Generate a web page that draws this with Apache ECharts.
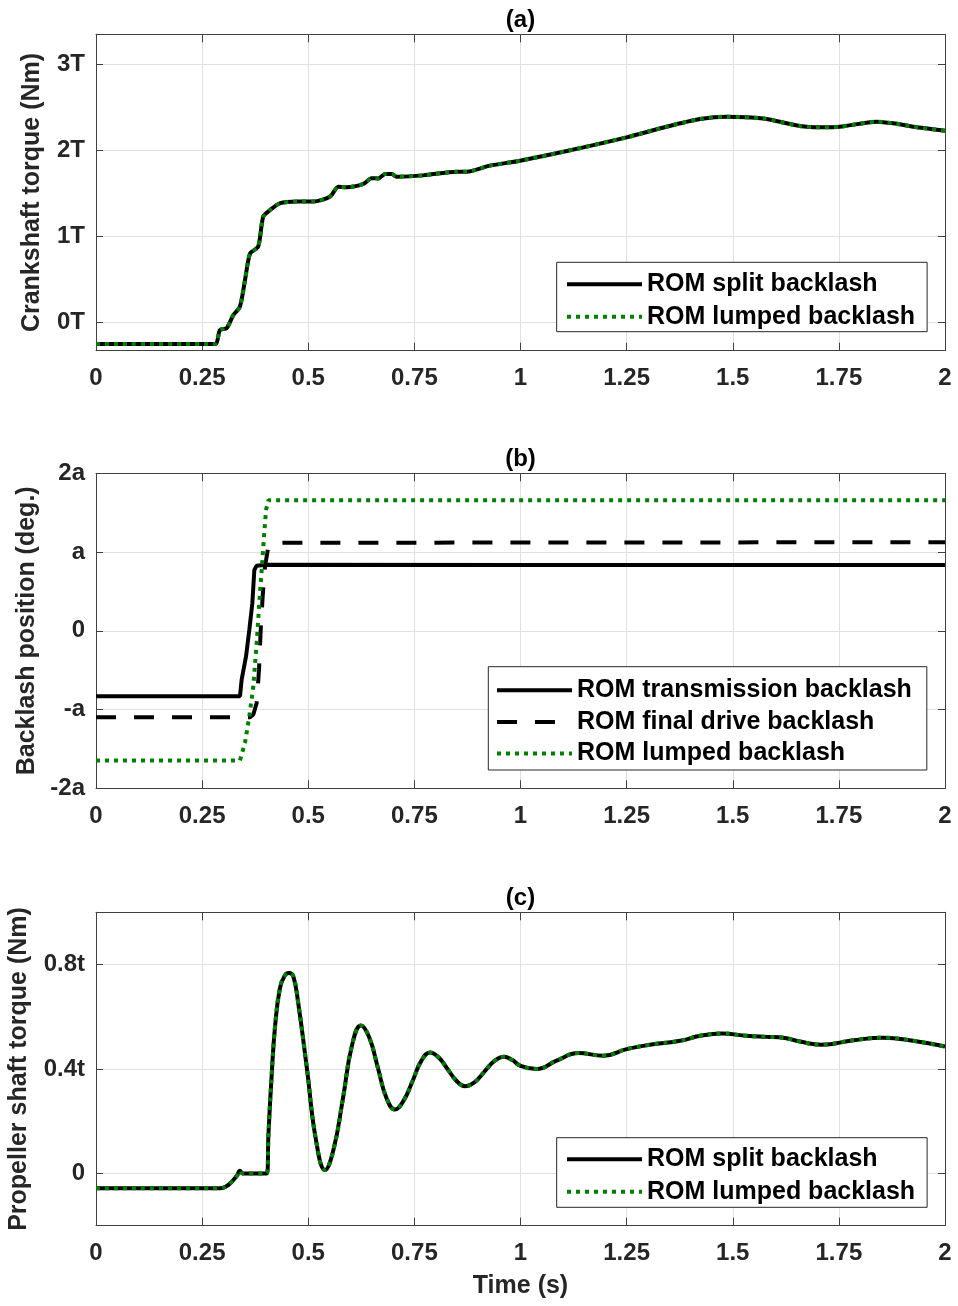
<!DOCTYPE html>
<html><head><meta charset="utf-8">
<script src="https://cdn.jsdelivr.net/npm/echarts@6/dist/echarts.min.js"></script>
<style>html,body{margin:0;padding:0;background:#fff}#c{width:958px;height:1306px}</style>
</head><body><div id="c"></div>
<script>
// ---------- data ----------
// (a) crankshaft torque, in units of T
const tA = [0, 0.280, 0.292, 0.308, 0.3235, 0.339, 0.351, 0.363, 0.382, 0.394, 0.41, 0.433, 0.473, 0.512, 0.551, 0.571, 0.590, 0.630, 0.649, 0.665, 0.681, 0.697, 0.708, 0.771, 0.85, 0.873, 0.928, 0.999, 1.109, 1.25, 1.344, 1.423, 1.486, 1.572, 1.658, 1.705, 1.752, 1.839, 1.878, 1.925, 2.0];
const crankSplit = [-0.256, -0.256, -0.093, -0.07, 0.081, 0.178, 0.488, 0.798, 0.876, 1.225, 1.302, 1.38, 1.40, 1.40, 1.457, 1.573, 1.566, 1.605, 1.671, 1.67, 1.721, 1.72, 1.69, 1.705, 1.748, 1.748, 1.818, 1.876, 1.988, 2.147, 2.271, 2.36, 2.388, 2.365, 2.279, 2.264, 2.27, 2.329, 2.31, 2.271, 2.225];
const crankLumped = [-0.256, -0.256, -0.093, -0.07, 0.081, 0.178, 0.488, 0.798, 0.876, 1.225, 1.302, 1.38, 1.40, 1.40, 1.457, 1.573, 1.566, 1.605, 1.671, 1.67, 1.721, 1.72, 1.69, 1.705, 1.748, 1.748, 1.818, 1.876, 1.988, 2.147, 2.271, 2.36, 2.388, 2.365, 2.279, 2.264, 2.27, 2.329, 2.31, 2.271, 2.225];
const crankTickValues = [0, 1, 2, 3];
const crankTickLabels = ['0T', '1T', '2T', '3T'];

// (b) backlash positions, in units of a
const tTrans = [0, 0.3392, 0.3431, 0.3534, 0.3612, 0.3683, 0.3730, 0.3785, 0.40, 1.0, 2.0];
const vTrans = [-0.83, -0.83, -0.62, -0.325, 0.013, 0.35, 0.772, 0.827, 0.84, 0.835, 0.835];
const tFinal = [0, 0.3628, 0.3706, 0.3785, 0.384, 0.388, 0.3926, 0.398, 0.406, 0.4256, 2.0];
const vFinal = [-1.097, -1.097, -1.063, -0.916, -0.494, 0.013, 0.435, 0.814, 1.067, 1.118, 1.125];
const tLump = [0, 0.3392, 0.351, 0.3612, 0.3706, 0.3785, 0.3847, 0.3903, 0.3957, 0.4005, 0.406, 2.0];
const vLump = [-1.646, -1.646, -1.422, -1.085, -0.705, -0.156, 0.35, 0.772, 1.194, 1.532, 1.658, 1.658];
const backTickValues = [-2, -1, 0, 1, 2];
const backTickLabels = ['-2a', '-a', '0', 'a', '2a'];

// (c) propeller shaft torque, in units of t
const tC = [0, 0.292, 0.308, 0.3196, 0.3314, 0.3392, 0.3455, 0.4024, 0.4063, 0.414, 0.4216, 0.4334, 0.4452, 0.4547, 0.4648, 0.476, 0.497, 0.518, 0.5395, 0.56, 0.582, 0.603, 0.624, 0.644, 0.664, 0.684, 0.704, 0.725, 0.746, 0.766, 0.787, 0.808, 0.828, 0.849, 0.869, 0.892, 0.915, 0.938, 0.961, 0.98, 1.0, 1.038, 1.085, 1.136, 1.195, 1.25, 1.305, 1.376, 1.423, 1.474, 1.533, 1.58, 1.619, 1.658, 1.709, 1.784, 1.855, 1.925, 2.0];
const propSplit = [-0.057, -0.057, -0.048, -0.032, -0.010, 0.010, 0.0, 0.0, 0.152, 0.381, 0.559, 0.711, 0.759, 0.768, 0.755, 0.657, 0.40, 0.13, 0.013, 0.095, 0.29, 0.49, 0.567, 0.52, 0.405, 0.29, 0.245, 0.28, 0.355, 0.43, 0.463, 0.443, 0.40, 0.355, 0.334, 0.35, 0.39, 0.43, 0.447, 0.435, 0.412, 0.400, 0.432, 0.461, 0.451, 0.476, 0.493, 0.508, 0.527, 0.536, 0.527, 0.523, 0.52, 0.505, 0.493, 0.51, 0.52, 0.508, 0.486];
const propLumped = [-0.057, -0.057, -0.048, -0.032, -0.010, 0.010, 0.0, 0.0, 0.152, 0.381, 0.559, 0.711, 0.759, 0.768, 0.755, 0.657, 0.40, 0.13, 0.013, 0.095, 0.29, 0.49, 0.567, 0.52, 0.405, 0.29, 0.245, 0.28, 0.355, 0.43, 0.463, 0.443, 0.40, 0.355, 0.334, 0.35, 0.39, 0.43, 0.447, 0.435, 0.412, 0.400, 0.432, 0.461, 0.451, 0.476, 0.493, 0.508, 0.527, 0.536, 0.527, 0.523, 0.52, 0.505, 0.493, 0.51, 0.52, 0.508, 0.486];
const propTickValues = [0, 0.4, 0.8];
const propTickLabels = ['0', '0.4t', '0.8t'];

const panelTitles = ['(a)', '(b)', '(c)'];
const yNames = ['Crankshaft torque (Nm)', 'Backlash position (deg.)', 'Propeller shaft torque (Nm)'];
const xName = 'Time (s)';
const nameSplit = 'ROM split backlash', nameLumped = 'ROM lumped backlash';
const nameTrans = 'ROM transmission backlash', nameFinal = 'ROM final drive backlash';

// ---------- styling / layout ----------
const FONT = 'Liberation Sans, Arial, Helvetica, sans-serif';
const AXIS = '#404040', GRIDC = '#e0e0e0', TXT = '#262626', GREEN = '#008000';
const grids = [
  {left: 96, top: 34.3, width: 849, height: 316.4},
  {left: 96, top: 473.3, width: 849, height: 315},
  {left: 96, top: 912.3, width: 849, height: 313.4}
];
const yRanges = [[-0.333, 3.345], [-2, 2], [-0.2, 1.0]];
const yTicks = [crankTickValues, backTickValues, propTickValues];
const yLabels = [crankTickLabels, backTickLabels, propTickLabels];
const yNameGaps = [51, 55.5, 64];

const zip = (t, v) => t.map((x, i) => [x, v[i]]);
const txt = (size) => ({fontSize: size, fontWeight: 'bold', fontFamily: FONT, color: TXT});

const xAxes = [], yAxes = [];
grids.forEach((g, i) => {
  xAxes.push({
    type: 'value', gridIndex: i, min: 0, max: 2, interval: 0.25, position: 'bottom',
    axisLine: {show: true, onZero: false, lineStyle: {color: AXIS, width: 1}},
    axisTick: {show: true, inside: true, length: 8, lineStyle: {color: AXIS, width: 1}},
    axisLabel: Object.assign({show: true, margin: 16, showMinLabel: true, showMaxLabel: true,
      formatter: v => String(+v.toFixed(2))}, txt(24)),
    splitLine: {show: true, lineStyle: {color: GRIDC, width: 1}},
    name: i === 2 ? xName : '', nameLocation: 'middle', nameGap: 48,
    nameTextStyle: txt(25)
  });
  xAxes.push({
    type: 'value', gridIndex: i, min: 0, max: 2, interval: 0.25, position: 'top',
    axisLine: {show: true, onZero: false, lineStyle: {color: AXIS, width: 1}},
    axisTick: {show: true, inside: true, length: 8, lineStyle: {color: AXIS, width: 1}},
    axisLabel: {show: false}, splitLine: {show: false}
  });
  const lab = yLabels[i], tv = yTicks[i];
  yAxes.push({
    type: 'value', gridIndex: i, min: yRanges[i][0], max: yRanges[i][1], position: 'left',
    axisLine: {show: true, onZero: false, lineStyle: {color: AXIS, width: 1}},
    axisTick: {show: true, inside: true, length: 7, customValues: tv, lineStyle: {color: AXIS, width: 1}},
    axisLabel: Object.assign({show: true, margin: 11, customValues: tv, showMinLabel: true, showMaxLabel: true,
      formatter: v => { const k = tv.findIndex(x => Math.abs(x - v) < 1e-6); return k >= 0 ? lab[k] : ''; }}, txt(24)),
    splitLine: {show: true, lineStyle: {color: GRIDC, width: 1}},
    name: yNames[i], nameLocation: 'middle', nameGap: yNameGaps[i], nameTextStyle: txt(25)
  });
  yAxes.push({
    type: 'value', gridIndex: i, min: yRanges[i][0], max: yRanges[i][1], position: 'right',
    axisLine: {show: true, onZero: false, lineStyle: {color: AXIS, width: 1}},
    axisTick: {show: true, inside: true, length: 7, customValues: tv, lineStyle: {color: AXIS, width: 1}},
    axisLabel: {show: false}, splitLine: {show: false}
  });
});

const solid = {color: '#000', width: 4, type: 'solid'};
const dashed = {color: '#000', width: 4, type: [20, 18]};
const dotted = {color: GREEN, width: 4, type: [4, 5]};
const mk = (name, data, gi, ls, smooth, z) => ({
  type: 'line', name, data, xAxisIndex: gi * 2, yAxisIndex: gi * 2,
  symbol: 'none', showSymbol: false, smooth: smooth,
  lineStyle: ls, itemStyle: {color: ls.color}, z: z, silent: true, clip: true
});

const series = [
  mk(nameSplit, zip(tA, crankSplit), 0, solid, 0.25, 2),
  mk(nameLumped, zip(tA, crankLumped), 0, dotted, 0.25, 3),
  mk(nameTrans, zip(tTrans, vTrans), 1, solid, 0, 2),
  mk(nameFinal, zip(tFinal, vFinal), 1, dashed, 0, 2),
  mk(nameLumped, zip(tLump, vLump), 1, dotted, 0, 3),
  mk(nameSplit, zip(tC, propSplit), 2, solid, 0.45, 2),
  mk(nameLumped, zip(tC, propLumped), 2, dotted, 0.45, 3)
];

const legBase = {
  orient: 'vertical', itemWidth: 75, itemHeight: 14, itemGap: 7.5,
  borderColor: '#262626', borderWidth: 1, backgroundColor: '#fff', borderRadius: 0,
  itemStyle: {opacity: 0, borderWidth: 0}, lineStyle: {width: 4},
  selectedMode: false, textStyle: {fontSize: 25, fontWeight: 'bold', fontFamily: FONT, color: '#000'}, z: 10
};
const legends = [
  Object.assign({}, legBase, {left: 556.7, top: 262.3, padding: [9.5, 12, 2.4, 8.3], data: [nameSplit, nameLumped]}),
  Object.assign({}, legBase, {left: 488.3, top: 666.7, padding: [11, 15, 3.9, 6.7], itemGap: 6.7, data: [nameTrans, nameFinal, nameLumped]}),
  Object.assign({}, legBase, {left: 556.7, top: 1137.7, padding: [9, 12, 3.1, 8.3], data: [nameSplit, nameLumped]})
];

const titleGraphics = grids.map((g, i) => ({
  type: 'text', x: g.left + g.width / 2, y: g.top - 14.3,
  style: {text: panelTitles[i], font: 'bold 24px ' + FONT, fill: '#000',
    align: 'center', verticalAlign: 'middle', textAlign: 'center', textVerticalAlign: 'middle'}
}));

const chart = echarts.init(document.getElementById('c'), null, {renderer: 'canvas'});
chart.setOption({
  animation: false,
  backgroundColor: '#fff',
  grid: grids.map(g => Object.assign({containLabel: false, outerBoundsMode: 'none'}, g)),
  xAxis: xAxes, yAxis: yAxes, series, legend: legends,
  graphic: titleGraphics
});
</script></body></html>
